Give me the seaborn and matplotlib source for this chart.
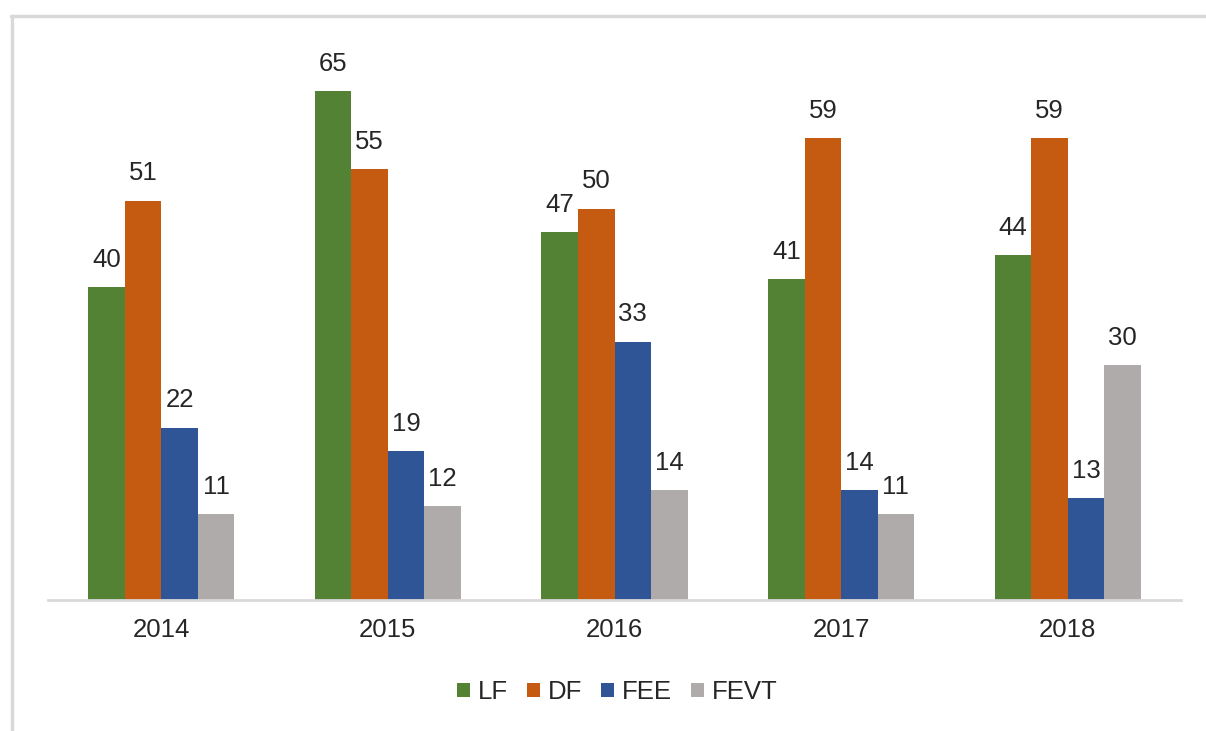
import numpy as np
import pandas as pd
import seaborn as sns
import matplotlib.pyplot as plt
from matplotlib.lines import Line2D
from matplotlib.patches import Patch

years = ['2014', '2015', '2016', '2017', '2018']
series = ['LF', 'DF', 'FEE', 'FEVT']
lf = [40, 65, 47, 41, 44]
df_vals = [51, 55, 50, 59, 59]
fee = [22, 19, 33, 14, 13]
fevt = [11, 12, 14, 11, 30]
colors = ['#548235', '#C55A11', '#2F5597', '#AFABAB']

data = pd.DataFrame({
    'year': years * 4,
    'series': [s for s in series for _ in years],
    'value': lf + df_vals + fee + fevt,
})

sns.set_theme(style='white')
plt.rcParams['font.family'] = ['Liberation Sans', 'DejaVu Sans']

fig = plt.figure(figsize=(12.06, 7.31), dpi=100)
ax = fig.add_axes([48 / 1206, 131 / 731, 1133 / 1206, 72 * 7.83 / 731])

sns.barplot(data=data, x='year', y='value', hue='series', palette=colors,
            width=0.645, gap=0, saturation=1, linewidth=0, ax=ax, legend=False)

for cont in ax.containers:
    ax.bar_label(cont, fmt='%d', padding=11, fontsize=18.5, color='#262626')

ax.set_xlim(-0.5, 4.5)
ax.set_ylim(0, 72)
ax.set_xlabel('')
ax.set_ylabel('')
ax.set_yticks([])
ax.tick_params(axis='x', length=0, labelsize=18.5, colors='#262626', pad=13)
for side in ['left', 'right', 'top']:
    ax.spines[side].set_visible(False)
ax.spines['bottom'].set_color('#D9D9D9')
ax.spines['bottom'].set_linewidth(2)

handles = [Patch(facecolor=c, edgecolor='none', label=s) for s, c in zip(series, colors)]
fig.legend(handles=handles, loc='center', bbox_to_anchor=(0.512, 0.053), ncol=4,
           frameon=False, fontsize=18.5, handlelength=0.5, handleheight=0.5,
           handletextpad=0.3, columnspacing=0.75)

# outer chart border (left and top)
fig.add_artist(Line2D([11.5 / 1206, 11.5 / 1206], [0, 1 - 15.5 / 731],
                      transform=fig.transFigure, color='#D9D9D9', lw=2.5))
fig.add_artist(Line2D([10.5 / 1206, 1], [1 - 15.5 / 731, 1 - 15.5 / 731],
                      transform=fig.transFigure, color='#D9D9D9', lw=2.5))

fig.savefig('out.png', dpi=100)
